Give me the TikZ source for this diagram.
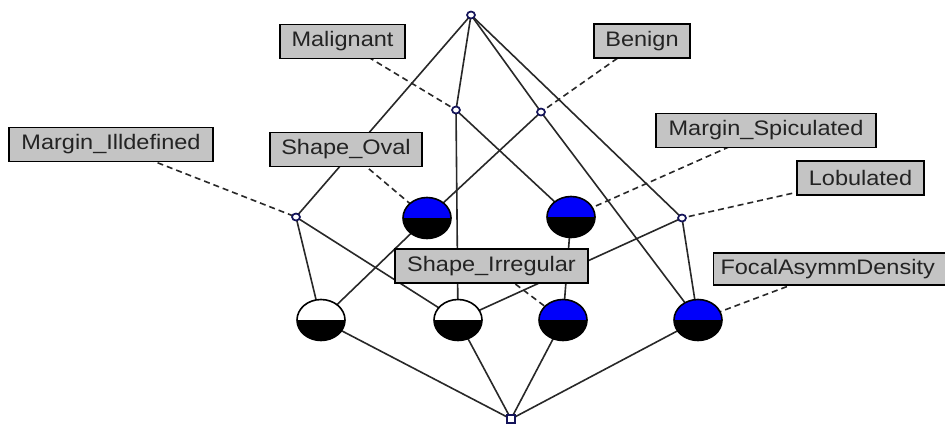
\documentclass[tikz,border=0pt]{standalone}
\usepackage{fontspec}
\newfontfamily\lblfont{Liberation Sans}[FakeStretch=1.12]
\usetikzlibrary{shapes.geometric}
\pgfdeclarelayer{bg}
\pgfdeclarelayer{paper}
\pgfsetlayers{paper,bg,main}
\definecolor{edgec}{RGB}{40,40,40}
\definecolor{boxfill}{RGB}{196,196,196}
\definecolor{txtc}{RGB}{35,35,35}
\definecolor{navyc}{RGB}{20,20,90}
\definecolor{cblue}{RGB}{0,0,250}
\begin{document}
\begin{tikzpicture}[x=1pt,y=-1pt,
  lbl/.style={draw=black, line width=1.4pt, fill=boxfill, text=txtc,
    font=\lblfont\fontsize{21}{24}\selectfont, minimum height=34pt, inner sep=0pt},
  smallnode/.style={ellipse, draw=navyc, line width=1.7pt, fill=white,
    minimum width=8pt, minimum height=7pt, inner sep=0pt},
  halfnode/.style={ellipse, draw=black, line width=1.6pt, minimum width=48pt,
    minimum height=41pt, inner sep=0pt,
    path picture={\fill[#1] (path picture bounding box.north west) rectangle (path picture bounding box.east);
      \fill[black] (path picture bounding box.west) rectangle (path picture bounding box.south east);}},
  solidln/.style={draw=edgec, line width=1.6pt},
  dashln/.style={draw=edgec, line width=1.6pt, dash pattern=on 6pt off 4pt}]
\useasboundingbox (0,0) rectangle (945,424);
\begin{pgfonlayer}{paper}
\fill[white] (0,0) rectangle (945,424);
\end{pgfonlayer}

% concept nodes
\node[smallnode] (T) at (471,15) {};
\node[smallnode] (M) at (456,110) {};
\node[smallnode] (B) at (541,112) {};
\node[smallnode] (MI) at (296,217) {};
\node[halfnode=cblue] (O) at (427,218) {};
\node[halfnode=cblue] (S) at (571,217) {};
\node[smallnode] (L) at (682,218) {};
\node[halfnode=white] (W1) at (321,320) {};
\node[halfnode=white] (W2) at (458,320) {};
\node[halfnode=cblue] (I) at (563,320) {};
\node[halfnode=cblue] (F) at (698,320) {};
\node[rectangle, draw=navyc, line width=1.6pt, fill=white, minimum size=8pt, inner sep=0pt] (Bot) at (511,419) {};

% labels
\node[lbl, minimum width=125pt] (lMal) at (342.5,41.5) {Malignant};
\node[lbl, minimum width=96pt] (lBen) at (642,41) {Benign};
\node[lbl, minimum width=204pt] (lMI) at (111,144.5) {Margin\_Illdefined};
\node[lbl, minimum width=152pt] (lOv) at (346,149.5) {Shape\_Oval};
\node[lbl, minimum width=220pt] (lSp) at (766,130.5) {Margin\_Spiculated};
\node[lbl, minimum width=127pt] (lLo) at (860.5,178) {Lobulated};
\node[lbl, minimum width=193pt] (lIr) at (491.5,266) {Shape\_Irregular};
\node[lbl, minimum width=240pt, minimum height=32pt, anchor=west] (lFo) at (713,269) {\hspace{-12pt}FocalAsymmDensity};

\begin{pgfonlayer}{bg}
\draw[solidln] (T.center) -- (MI.center);
\draw[solidln] (T.center) -- (M.center);
\draw[solidln] (T.center) -- (B.center);
\draw[solidln] (T.center) -- (L.center);
\draw[solidln] (M.center) -- (W2.center);
\draw[solidln] (M.center) -- (S.center);
\draw[solidln] (B.center) -- (O.center);
\draw[solidln] (B.center) -- (F.center);
\draw[solidln] (MI.center) -- (W1.center);
\draw[solidln] (MI.center) -- (W2.center);
\draw[solidln] (O.center) -- (W1.center);
\draw[solidln] (S.center) -- (I.center);
\draw[solidln] (L.center) -- (W2.center);
\draw[solidln] (L.center) -- (F.center);
\draw[solidln] (W1.center) -- (Bot.center);
\draw[solidln] (W2.center) -- (Bot.center);
\draw[solidln] (I.center) -- (Bot.center);
\draw[solidln] (F.center) -- (Bot.center);
% label connectors
\draw[dashln] (lMal.center) -- (M.center);
\draw[dashln] (lBen.center) -- (B.center);
\draw[dashln] (lMI.center) -- (MI.center);
\draw[dashln] (lOv.center) -- (O.center);
\draw[dashln] (lSp.center) -- (S.center);
\draw[dashln] (lLo.center) -- (L.center);
\draw[dashln] (lIr.center) -- (I.center);
\draw[dashln] (lFo.center) -- (F.center);
\end{pgfonlayer}
\end{tikzpicture}
\end{document}
